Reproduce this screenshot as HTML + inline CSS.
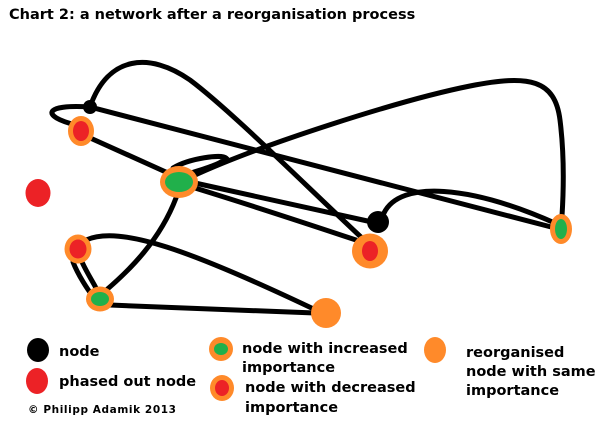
<!DOCTYPE html>
<html><head><meta charset="utf-8"><style>
html,body{margin:0;padding:0;background:#fff;width:608px;height:422px;overflow:hidden}
svg{display:block}
text{font-family:"DejaVu Sans","Liberation Sans",sans-serif;font-weight:bold;fill:#000}
</style></head><body>
<svg width="608" height="422" viewBox="0 0 608 422" xmlns="http://www.w3.org/2000/svg">
<text x="9" y="19" font-size="14.5">Chart 2: a network after a reorganisation process</text>
<g fill="none" stroke="#000" stroke-width="5" stroke-linecap="round">
<path d="M90,107 C108,55 150,52 190,80 C230,110 300,180 362,238"/>
<path d="M76,125 C40,116 44,104 90,107 L555,228"/>
<path d="M88,137 L168,173"/>
<path d="M173,168 C190,158 222,154 226,158 C222,164 200,170 188,174"/>
<path d="M193,176 C260,145 400,100 470,86 C530,74 555,80 560,120 C565,160 563,200 562,216"/>
<path d="M195,183 L372,222"/>
<path d="M195,188 C260,208 320,228 356,240"/>
<path d="M384,213 C400,180 470,185 557,224"/>
<path d="M176,198 C160,240 130,270 104,292"/>
<path d="M86,240 C120,225 190,250 320,312"/>
<path d="M73,262 C78,275 88,290 92,295"/>
<path d="M82,262 C88,275 95,285 98,292"/>
<path d="M110,305 C180,308 260,311 315,313"/>
</g>
<!-- nodes -->
<circle cx="90" cy="107" r="7" fill="#000"/>
<ellipse cx="81" cy="131" rx="13" ry="15" fill="#ff8a2a"/><ellipse cx="81" cy="131" rx="8" ry="10" fill="#ec2226"/>
<ellipse cx="38" cy="193" rx="12.5" ry="14" fill="#ec2226"/>
<ellipse cx="179" cy="182" rx="19" ry="16" fill="#ff8a2a"/><ellipse cx="179" cy="182" rx="14" ry="10" fill="#21b04b"/>
<ellipse cx="78" cy="249" rx="13.5" ry="14.5" fill="#ff8a2a"/><ellipse cx="78" cy="249" rx="8.5" ry="9.5" fill="#ec2226"/>
<ellipse cx="100" cy="299" rx="14" ry="12.5" fill="#ff8a2a"/><ellipse cx="100" cy="299" rx="9" ry="7" fill="#21b04b"/>
<circle cx="378" cy="222" r="11" fill="#000"/>
<ellipse cx="370" cy="251" rx="18" ry="17.5" fill="#ff8a2a"/><ellipse cx="370" cy="251" rx="8" ry="10" fill="#ec2226"/>
<ellipse cx="561" cy="229" rx="11" ry="15" fill="#ff8a2a"/><ellipse cx="561" cy="229" rx="6" ry="10" fill="#21b04b"/>
<circle cx="326" cy="313" r="15" fill="#ff8a2a"/>
<!-- legend -->
<ellipse cx="38" cy="350" rx="11" ry="12" fill="#000"/>
<ellipse cx="37" cy="381" rx="11" ry="13" fill="#ec2226"/>
<ellipse cx="221" cy="349" rx="12" ry="12" fill="#ff8a2a"/><ellipse cx="221" cy="349" rx="7" ry="6" fill="#21b04b"/>
<ellipse cx="222" cy="388" rx="12" ry="13" fill="#ff8a2a"/><ellipse cx="222" cy="388" rx="7" ry="8" fill="#ec2226"/>
<ellipse cx="435" cy="350" rx="11" ry="13" fill="#ff8a2a"/>
<g font-size="14.5">
<text x="59" y="356">node</text>
<text x="59" y="386">phased out node</text>
<text x="242" y="353">node with increased</text>
<text x="242" y="372">importance</text>
<text x="245" y="392">node with decreased</text>
<text x="245" y="412">importance</text>
<text x="466" y="357">reorganised</text>
<text x="466" y="376">node with same</text>
<text x="466" y="395">importance</text>
</g>
<text x="28" y="413" font-size="10.5" letter-spacing="0.6">© Philipp Adamik 2013</text>
</svg>
</body></html>
